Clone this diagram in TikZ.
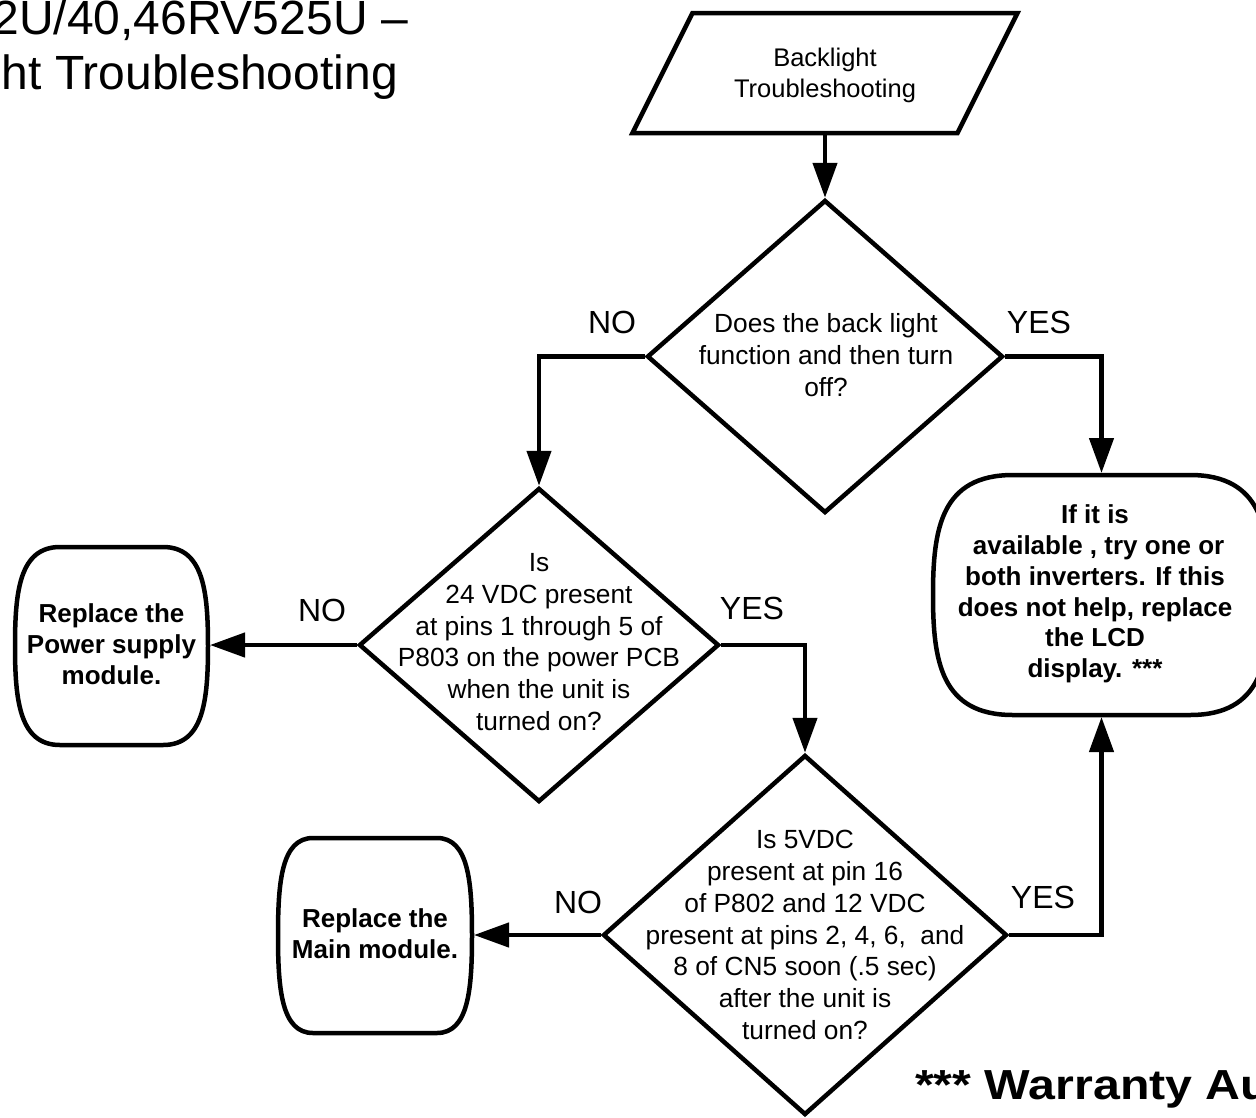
\documentclass[tikz,border=0pt]{standalone}
\usepackage{fontspec}
\setmainfont{Liberation Sans}
\newfontfamily\warrfont[FakeStretch=1.15]{Liberation Sans}
\usetikzlibrary{arrows.meta,shapes.geometric,calc}
\tikzset{
  shapeline/.style={line width=4.5pt, line join=round},
  dia/.style={shape=diamond, draw, line width=4.5pt, inner sep=0pt},
  frame/.style={shape=rectangle, inner sep=0pt, outer sep=0pt},
  qtext/.style={align=center, inner sep=0pt, font=\fontsize{26.3}{31.7}\selectfont},
  ttext/.style={align=center, inner sep=0pt, font=\fontsize{26}{30.8}\selectfont\bfseries},
  lab/.style={inner sep=0pt, font=\fontsize{32}{36}\selectfont},
  arr/.style={line width=4.5pt, -{Triangle[length=35pt,width=24pt]}},
}
\newcommand\termshape[2]{%
  \draw[shapeline] ($(#1.north west)+(#2,0)$) -- ($(#1.north east)+(-#2,0)$)
    .. controls ($(#1.north east)+(-0.1*#2,0)$) and ($(#1.east)!0.55!(#1.north east)$) .. (#1.east)
    .. controls ($(#1.east)!0.55!(#1.south east)$) and ($(#1.south east)+(-0.1*#2,0)$) .. ($(#1.south east)+(-#2,0)$)
    -- ($(#1.south west)+(#2,0)$)
    .. controls ($(#1.south west)+(0.1*#2,0)$) and ($(#1.west)!0.55!(#1.south west)$) .. (#1.west)
    .. controls ($(#1.west)!0.55!(#1.north west)$) and ($(#1.north west)+(0.1*#2,0)$) .. cycle;}
\begin{document}
\begin{tikzpicture}[x=1pt,y=-1pt]
\useasboundingbox (0,0) rectangle (1256,1117);
\fill[white] (0,0) rectangle (1256,1117);

% title
\node[anchor=base east, inner sep=0pt, font=\fontsize{48}{52}\selectfont] (t1) at (408,34) {2U/40,46RV525U –};
\node[anchor=base east, inner sep=0pt, font=\fontsize{48}{54}\selectfont] (t2) at (398,89) {ht Troubleshooting};

% start parallelogram
\node[frame, minimum width=385pt, minimum height=120pt] (start) at (825,73) {};
\draw[shapeline, line join=miter] ($(start.north west)+(60,0)$) -- (start.north east)
  -- ($(start.south east)+(-60,0)$) -- (start.south west) -- cycle;
\node[align=center, inner sep=0pt, font=\fontsize{25.5}{31}\selectfont] (startt) at (825,75) {Backlight\\Troubleshooting};

% decisions
\node[dia, minimum width=356pt, minimum height=313pt] (d1) at (825,356.5) {};
\node[qtext] (d1t) at (826,355) {Does the back light\\function and then turn\\off?};

\node[dia, minimum width=360pt, minimum height=314pt] (d2) at (539,645) {};
\node[qtext] (d2t) at (539,642) {Is\\24 VDC present\\at pins 1 through 5 of\\P803 on the power PCB\\when the unit is\\turned on?};

\node[dia, minimum width=404pt, minimum height=360pt] (d3) at (805,935) {};
\node[qtext] (d3t) at (805,935) {Is 5VDC\\present at pin 16\\of P802 and 12 VDC\\present at pins 2, 4, 6,~ and\\8 of CN5 soon (.5 sec)\\after the unit is\\turned on?};

% terminals
\node[frame, minimum width=193pt, minimum height=198pt] (ps) at (111.5,646) {};
\termshape{ps}{45}
\node[ttext] (pst) at (111.5,644) {Replace the\\Power supply\\module.};

\node[frame, minimum width=194pt, minimum height=195pt] (mm) at (375,935.5) {};
\termshape{mm}{35}
\node[ttext] (mmt) at (375,934) {Replace the\\Main module.};

\node[frame, minimum width=337pt, minimum height=240pt] (term) at (1101.5,595) {};
\termshape{term}{80}
\node[ttext] (termt) at (1095,594) {If it is\\~available , try one or\\both inverters. If this\\does not help, replace\\the LCD\\display. ***};

% connectors
\draw[arr] (start.south) -- (start.south |- d1.north);
\draw[arr] (d1.west) -| (d2.north);
\draw[arr, shorten >=2pt] (d1.east) -| (term.north);
\draw[arr, shorten >=2pt] (d2.west) -- (d2.west -| ps.east);
\draw[arr] (d2.east) -| (d3.north);
\draw[arr, shorten >=2pt] (d3.west) -- (d3.west -| mm.east);
\draw[arr, shorten >=2pt] (d3.east) -| (term.south);

% labels
\node[lab] (l1) at (612,322) {NO};
\node[lab] (l2) at (1039,322) {YES};
\node[lab] (l3) at (322,610) {NO};
\node[lab] (l4) at (752,608) {YES};
\node[lab] (l5) at (578,902) {NO};
\node[lab] (l6) at (1043,897) {YES};

% footnote
\node[anchor=base west, inner sep=0pt, font=\fontsize{42}{46}\warrfont\bfseries] (warr) at (915,1099) {*** Warranty Au};
\end{tikzpicture}
\end{document}
